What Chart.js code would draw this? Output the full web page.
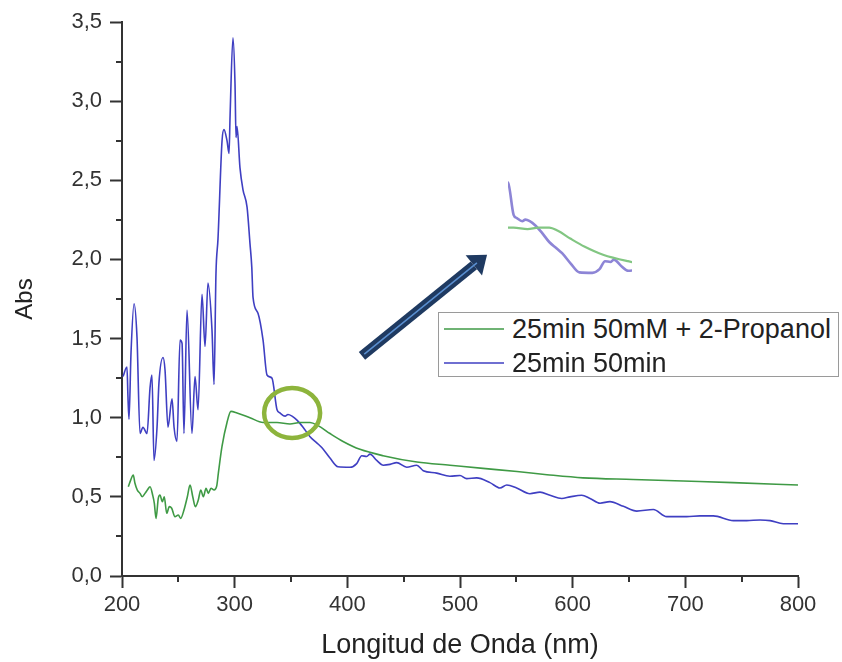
<!DOCTYPE html>
<html>
<head>
<meta charset="utf-8">
<script src="https://cdn.jsdelivr.net/npm/chart.js@4.4.1/dist/chart.umd.min.js"></script>
<style>
  html, body { margin: 0; padding: 0; background: #fff; }
  #wrap { position: relative; width: 842px; height: 662px; overflow: hidden; }
  #myChart { position: absolute; left: 0; top: 0; }
  #zoomChart { position: absolute; left: 508px; top: 178px; }
  #legend {
    position: absolute; left: 438px; top: 312px; width: 401px; height: 65px;
    border: 1px solid #9a9a9a; background: #fff; box-sizing: border-box;
    font-family: "Liberation Sans", Arial, sans-serif; font-size: 27px; color: #222;
  }
  #legend .row { position: absolute; left: 0; height: 32px; line-height: 32px; white-space: nowrap; }
  #legend .swatch { position: absolute; left: 5px; top: 15px; width: 60px; height: 2px; opacity: 0.75; }
  #legend .txt { position: absolute; left: 73px; top: 0; }
</style>
</head>
<body>
<div id="wrap">
  <canvas id="myChart" width="842" height="662"></canvas>
  <canvas id="zoomChart" width="124" height="100"></canvas>
  <div id="legend"></div>
</div>
<script>
// Nombres de las series
const labelGreen = '25min 50mM + 2-Propanol';
const labelBlue = '25min 50min';

// 25min 50min (azul)
const blueNm = [
  200.9, 204.4, 205.3, 206.2, 208.0, 210.7, 213.3, 216.0, 218.6, 222.2,
  224.9, 226.6, 228.4, 231.1, 232.8, 236.4, 238.2, 240.8, 244.4, 246.2,
  248.8, 251.5, 253.3, 255.0, 257.7, 262.1, 264.8, 267.5, 271.0, 273.7,
  276.3, 279.9, 281.7, 283.4, 285.2, 288.8, 290.5, 293.2, 295.0, 295.9,
  298.5, 300.3, 301.2, 302.1, 304.7, 307.4, 311.0, 313.6, 315.2, 316.3,
  320.7, 325.2, 328.7, 333.1, 337.6, 340.2, 344.7, 347.3, 350.9, 355.3,
  360.7, 366.9, 373.1, 377.5, 384.6, 391.7, 402.4, 408.3, 412.8, 417.2,
  420.1, 426.1, 431.9, 437.9, 443.8, 452.7, 461.6, 467.4, 479.3, 491.1,
  500.0, 505.9, 514.8, 526.6, 535.5, 541.5, 550.3, 562.1, 571.0, 579.9,
  590.3, 597.6, 608.0, 615.4, 624.3, 633.1, 645.0, 656.9, 671.6, 683.5,
  701.2, 713.0, 724.8, 742.6, 754.5, 766.3, 775.2, 787.0, 800.0
];
const blueAbs = [
  1.26, 1.32, 1.13, 0.99, 1.41, 1.72, 1.51, 0.90, 0.94, 0.90,
  1.19, 1.27, 0.73, 0.94, 1.22, 1.38, 1.30, 0.94, 1.12, 0.94,
  0.85, 1.49, 1.47, 0.90, 1.68, 0.90, 1.26, 1.05, 1.78, 1.45,
  1.85, 1.55, 1.21, 1.91, 2.13, 2.75, 2.82, 2.75, 2.67, 2.90,
  3.40, 3.11, 2.77, 2.84, 2.58, 2.44, 2.33, 2.10, 1.95, 1.76,
  1.66, 1.49, 1.27, 1.25, 1.05, 1.03, 1.01, 1.02, 1.01, 0.985,
  0.94, 0.88, 0.84, 0.81, 0.745, 0.69, 0.687, 0.71, 0.76, 0.755,
  0.77, 0.73, 0.70, 0.705, 0.716, 0.687, 0.70, 0.665, 0.65, 0.63,
  0.635, 0.615, 0.62, 0.59, 0.556, 0.575, 0.556, 0.52, 0.53, 0.51,
  0.49, 0.50, 0.51, 0.49, 0.46, 0.47, 0.44, 0.41, 0.42, 0.375,
  0.375, 0.38, 0.38, 0.35, 0.35, 0.354, 0.35, 0.33, 0.33
];

// 25min 50mM + 2-Propanol (verde)
const greenNm = [
  205.6, 207.7, 210.0, 211.5, 213.6, 216.0, 218.0, 220.4, 222.5, 224.9,
  227.2, 228.7, 230.2, 232.2, 233.7, 235.8, 237.5, 239.7, 242.0, 244.1,
  247.0, 250.0, 252.1, 255.0, 258.0, 260.4, 262.8, 265.1, 267.7, 269.9,
  272.2, 274.6, 276.6, 279.0, 281.7, 284.1, 285.5, 288.8, 293.2, 296.7,
  302.1, 313.6, 325.2, 337.6, 349.1, 358.0, 366.9, 374.0, 384.6, 396.2,
  411.2, 431.7, 461.8, 491.1, 520.4, 550.6, 577.2, 609.2, 653.6, 698.0,
  742.3, 800.0
];
const greenAbs = [
  0.564, 0.606, 0.638, 0.586, 0.543, 0.522, 0.501, 0.522, 0.543, 0.564,
  0.512, 0.459, 0.364, 0.491, 0.512, 0.469, 0.501, 0.396, 0.438, 0.428,
  0.375, 0.385, 0.364, 0.417, 0.501, 0.575, 0.501, 0.438, 0.48, 0.543,
  0.501, 0.554, 0.522, 0.554, 0.543, 0.569, 0.649, 0.82, 0.97, 1.04,
  1.03, 1.00, 0.97, 0.97, 0.96, 0.97, 0.97, 0.95, 0.90, 0.85,
  0.80, 0.76, 0.72, 0.70, 0.68, 0.66, 0.64, 0.62, 0.61, 0.60,
  0.59, 0.575
];

// Ejes
const xMin = 200, xMax = 800, xMajor = 100;
const yMin = 0, yMax = 3.5, yMajor = 0.5;
// zona ampliada (recuadro)
const zoomX = [333, 435];
const zoomY = [0.655, 1.28];
// marcas: circulo y flecha en unidades de datos
const circleAt = [351, 1.03];
const arrowFrom = [413, 1.39];
const arrowTo = [524, 2.03];

const axisColor = '#333';
const greenColor = '#3f9a45';
const blueColor = '#3f3fc2';
const font = '"Liberation Sans", Arial, sans-serif';

function toPoints(xs, ys) {
  return xs.map((v, i) => ({ x: v, y: ys[i] }));
}

function isMajor(value, step) {
  const r = value / step;
  return Math.abs(r - Math.round(r)) < 1e-6;
}

// ticks menores, circulo y flecha
const extrasPlugin = {
  id: 'extras',
  afterDraw(chart) {
    const { ctx, scales: { x, y }, chartArea } = chart;
    ctx.save();
    ctx.strokeStyle = axisColor;
    ctx.lineWidth = 2;
    ctx.beginPath();
    x.ticks.forEach(t => {
      if (!isMajor(t.value, xMajor)) {
        const px = Math.round(x.getPixelForValue(t.value));
        ctx.moveTo(px, chartArea.bottom);
        ctx.lineTo(px, chartArea.bottom + 6);
      }
    });
    y.ticks.forEach(t => {
      if (!isMajor(t.value, yMajor)) {
        const py = Math.round(y.getPixelForValue(t.value));
        ctx.moveTo(chartArea.left, py);
        ctx.lineTo(chartArea.left - 6, py);
      }
    });
    ctx.stroke();

    // circulo
    const cx = x.getPixelForValue(circleAt[0]);
    const cy = y.getPixelForValue(circleAt[1]);
    ctx.beginPath();
    ctx.ellipse(cx, cy, 28, 25, 0, 0, Math.PI * 2);
    ctx.strokeStyle = '#8db43c';
    ctx.lineWidth = 4.5;
    ctx.stroke();

    // flecha
    const x0 = x.getPixelForValue(arrowFrom[0]), y0 = y.getPixelForValue(arrowFrom[1]);
    const x1 = x.getPixelForValue(arrowTo[0]), y1 = y.getPixelForValue(arrowTo[1]);
    const ang = Math.atan2(y1 - y0, x1 - x0);
    const headLen = 17, headHalf = 13;
    const bx = x1 - headLen * Math.cos(ang), by = y1 - headLen * Math.sin(ang);
    ctx.lineCap = 'butt';
    ctx.strokeStyle = '#1f3a61';
    ctx.lineWidth = 10;
    ctx.beginPath();
    ctx.moveTo(x0, y0);
    ctx.lineTo(bx, by);
    ctx.stroke();
    ctx.fillStyle = '#1f3a61';
    ctx.beginPath();
    ctx.moveTo(x1, y1);
    ctx.lineTo(bx + headHalf * Math.sin(ang), by - headHalf * Math.cos(ang));
    ctx.lineTo(bx - headHalf * Math.sin(ang), by + headHalf * Math.cos(ang));
    ctx.closePath();
    ctx.fill();
    ctx.strokeStyle = '#5a8fd0';
    ctx.lineWidth = 1.5;
    ctx.beginPath();
    ctx.moveTo(x0 + 3 * Math.cos(ang), y0 + 3 * Math.sin(ang));
    ctx.lineTo(bx + 4 * Math.cos(ang), by + 4 * Math.sin(ang));
    ctx.stroke();
    ctx.restore();
  }
};

const lineStyle = { pointRadius: 0, cubicInterpolationMode: 'monotone' };

const ctxMain = document.getElementById('myChart').getContext('2d');
const myChart = new Chart(ctxMain, {
  type: 'line',
  data: {
    datasets: [
      { label: labelGreen, data: toPoints(greenNm, greenAbs), borderColor: greenColor, borderWidth: 1.6, ...lineStyle },
      { label: labelBlue, data: toPoints(blueNm, blueAbs), borderColor: blueColor, borderWidth: 1.6, ...lineStyle }
    ]
  },
  options: {
    responsive: false,
    animation: false,
    layout: { padding: { top: 22, right: 44, left: 0, bottom: 0 } },
    plugins: { legend: { display: false }, tooltip: { enabled: false } },
    scales: {
      x: {
        type: 'linear', min: xMin, max: xMax,
        afterFit: s => { s.height = 86; },
        border: { display: true, color: axisColor, width: 2 },
        grid: {
          drawOnChartArea: false, drawTicks: true, tickLength: 12, tickWidth: 2,
          tickColor: c => isMajor(c.tick.value, xMajor) ? axisColor : 'rgba(0,0,0,0)'
        },
        ticks: {
          stepSize: 50, autoSkip: false, maxRotation: 0, padding: 4,
          color: axisColor, font: { family: font, size: 22 },
          callback: v => isMajor(v, xMajor) ? String(v) : ''
        },
        title: { display: true, text: 'Longitud de Onda (nm)', color: '#222', font: { family: font, size: 27 }, padding: { top: 0, bottom: 0 } }
      },
      y: {
        type: 'linear', min: yMin, max: yMax,
        afterFit: s => { s.width = 122; },
        border: { display: true, color: axisColor, width: 2 },
        grid: {
          drawOnChartArea: false, drawTicks: true, tickLength: 12, tickWidth: 2,
          tickColor: c => isMajor(c.tick.value, yMajor) ? axisColor : 'rgba(0,0,0,0)'
        },
        ticks: {
          stepSize: 0.25, autoSkip: false, padding: 8,
          color: axisColor, font: { family: font, size: 22 },
          callback: v => isMajor(v, yMajor) ? v.toFixed(1).replace('.', ',') : ''
        },
        title: { display: true, text: 'Abs', color: '#222', font: { family: font, size: 24 }, padding: { top: 11, bottom: 0 } }
      }
    }
  },
  plugins: [extrasPlugin]
});

// recuadro ampliado
const zoomChart = new Chart(document.getElementById('zoomChart').getContext('2d'), {
  type: 'line',
  data: {
    datasets: [
      { data: toPoints(greenNm, greenAbs), borderColor: '#82c682', borderWidth: 2.2, ...lineStyle },
      { data: toPoints(blueNm, blueAbs), borderColor: '#8d85d6', borderWidth: 2.6, ...lineStyle }
    ]
  },
  options: {
    responsive: false,
    animation: false,
    layout: { padding: 0 },
    plugins: { legend: { display: false }, tooltip: { enabled: false } },
    scales: {
      x: { type: 'linear', display: false, min: zoomX[0], max: zoomX[1] },
      y: { type: 'linear', display: false, min: zoomY[0], max: zoomY[1] }
    }
  }
});

// leyenda
const legend = document.getElementById('legend');
myChart.data.datasets.forEach((ds, i) => {
  const row = document.createElement('div');
  row.className = 'row';
  row.style.top = (i * 34) + 'px';
  row.innerHTML = '<span class="swatch" style="background:' + ds.borderColor + '"></span><span class="txt"></span>';
  row.querySelector('.txt').textContent = ds.label;
  legend.appendChild(row);
});
</script>
</body>
</html>
